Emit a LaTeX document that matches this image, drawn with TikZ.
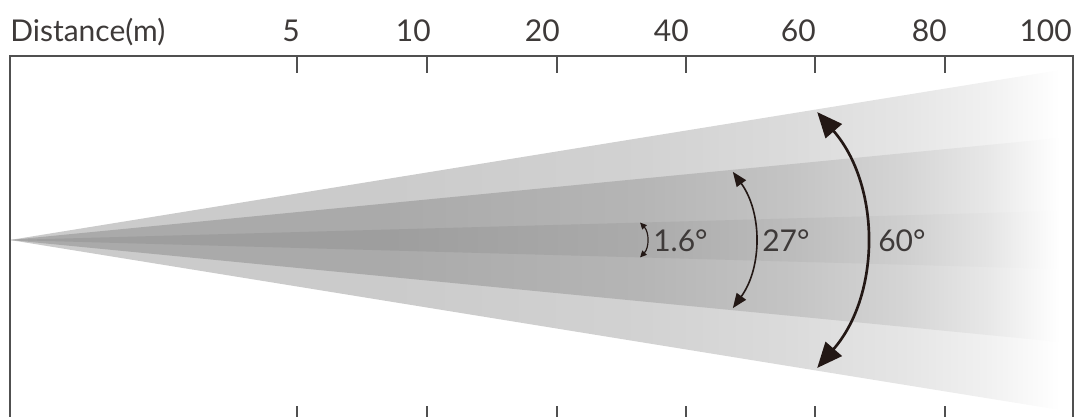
\documentclass[tikz,border=0pt]{standalone}
\usepackage{fontspec}
\setmainfont{Lato}
\usetikzlibrary{arrows.meta}

\definecolor{txtc}{HTML}{3E3A39}
\definecolor{framec}{HTML}{505050}
\definecolor{arrc}{HTML}{231815}
\definecolor{outerc}{HTML}{CBCBCB}
\definecolor{midc}{HTML}{AAAAAA}
\definecolor{innerc}{HTML}{9E9E9E}

\pgfdeclarehorizontalshading{outershade}{100bp}{color(0bp)=(outerc); color(43bp)=(outerc); color(55bp)=(outerc!87!white); color(62bp)=(outerc!70!white); color(67.5bp)=(outerc!50!white); color(71.5bp)=(outerc!28!white); color(74bp)=(outerc!8!white); color(75bp)=(white); color(100bp)=(white)}
\pgfdeclarehorizontalshading{midshade}{100bp}{color(0bp)=(midc); color(43bp)=(midc); color(55bp)=(midc!87!white); color(62bp)=(midc!70!white); color(67.5bp)=(midc!50!white); color(71.5bp)=(midc!28!white); color(74bp)=(midc!8!white); color(75bp)=(white); color(100bp)=(white)}
\pgfdeclarehorizontalshading{innershade}{100bp}{color(0bp)=(innerc); color(43bp)=(innerc); color(55bp)=(innerc!87!white); color(62bp)=(innerc!70!white); color(67.5bp)=(innerc!50!white); color(71.5bp)=(innerc!28!white); color(74bp)=(innerc!8!white); color(75bp)=(white); color(100bp)=(white)}

\begin{document}
\begin{tikzpicture}[x=0.75pt,y=-0.75pt,
    lbl/.style={inner sep=0pt, text=txtc, font=\fontsize{22.5}{27}\selectfont},
    frame/.style={draw=framec, line width=1.1pt},
    arcbig/.style={draw=arrc, line width=2pt, {Triangle[length=19pt,width=16pt]}-{Triangle[length=19pt,width=16pt]}},
    arcmid/.style={draw=arrc, line width=1.2pt, {Triangle[length=11pt,width=8.5pt]}-{Triangle[length=11pt,width=8.5pt]}},
    arcsmall/.style={draw=arrc, line width=0.9pt, {Triangle[length=5pt,width=4.5pt]}-{Triangle[length=5pt,width=4.5pt]}}]
  \useasboundingbox (0,0) rectangle (1076,417);

  \coordinate (O) at (10, 240);
  \coordinate (U1) at (1060, 70);
  \coordinate (L1) at (1060, 410);
  \coordinate (U2) at (1060, 138);
  \coordinate (L2) at (1060, 342);
  \coordinate (U3) at (1060, 211);
  \coordinate (L3) at (1060, 269);

  \shade[shading=outershade, shading angle=0] (O) -- (U1) -- (L1) -- cycle;
  \shade[shading=midshade, shading angle=0] (O) -- (U2) -- (L2) -- cycle;
  \shade[shading=innershade, shading angle=0] (O) -- (U3) -- (L3) -- cycle;

  \coordinate (BL) at (10, 417);
  \coordinate (TL) at (10, 56);
  \coordinate (TR) at (1073, 56);
  \coordinate (BR) at (1073, 417);
  \draw[frame] (BL) -- (TL) -- (TR) -- (BR);

  \coordinate (T5) at (297, 56);
  \coordinate (T10) at (427, 56);
  \coordinate (T20) at (557, 56);
  \coordinate (T40) at (686, 56);
  \coordinate (T60) at (815, 56);
  \coordinate (T80) at (945, 56);
  \coordinate (T5b) at (297, 73);
  \coordinate (T10b) at (427, 73);
  \coordinate (T20b) at (557, 73);
  \coordinate (T40b) at (686, 73);
  \coordinate (T60b) at (815, 73);
  \coordinate (T80b) at (945, 73);
  \draw[frame] (T5) -- (T5b);
  \draw[frame] (T10) -- (T10b);
  \draw[frame] (T20) -- (T20b);
  \draw[frame] (T40) -- (T40b);
  \draw[frame] (T60) -- (T60b);
  \draw[frame] (T80) -- (T80b);

  \coordinate (B5) at (297, 406);
  \coordinate (B10) at (427, 406);
  \coordinate (B20) at (557, 406);
  \coordinate (B40) at (686, 406);
  \coordinate (B60) at (815, 406);
  \coordinate (B80) at (945, 406);
  \coordinate (B5b) at (297, 417);
  \coordinate (B10b) at (427, 417);
  \coordinate (B20b) at (557, 417);
  \coordinate (B40b) at (686, 417);
  \coordinate (B60b) at (815, 417);
  \coordinate (B80b) at (945, 417);
  \draw[frame] (B5) -- (B5b);
  \draw[frame] (B10) -- (B10b);
  \draw[frame] (B20) -- (B20b);
  \draw[frame] (B40) -- (B40b);
  \draw[frame] (B60) -- (B60b);
  \draw[frame] (B80) -- (B80b);

  \node[lbl, anchor=base west] (dist) at (10, 42) {Distance(m)};
  \node[lbl, anchor=base east] (n5) at (300, 42) {5};
  \node[lbl, anchor=base east] (n10) at (431, 42) {10};
  \node[lbl, anchor=base east] (n20) at (560, 42) {20};
  \node[lbl, anchor=base east] (n40) at (689, 42) {40};
  \node[lbl, anchor=base east] (n60) at (816, 42) {60};
  \node[lbl, anchor=base east] (n80) at (947, 42) {80};
  \node[lbl, anchor=base east] (n100) at (1072, 42) {100};

  \coordinate (A1) at (640.0, 222.5);
  \coordinate (A2) at (732.8, 171.8);
  \coordinate (A3) at (817.2, 112.1);
  \draw[arcsmall] (A1) arc (-43.5:43.5:25.4);
  \draw[arcmid] (A2) arc (-36:36:116);
  \draw[arcbig] (A3) arc (-41:41:195);

  \node[lbl, anchor=base west] (d1) at (653, 252) {1.6°};
  \node[lbl, anchor=base west] (d2) at (762, 252) {27°};
  \node[lbl, anchor=base west] (d3) at (878, 252) {60°};
\end{tikzpicture}
\end{document}
